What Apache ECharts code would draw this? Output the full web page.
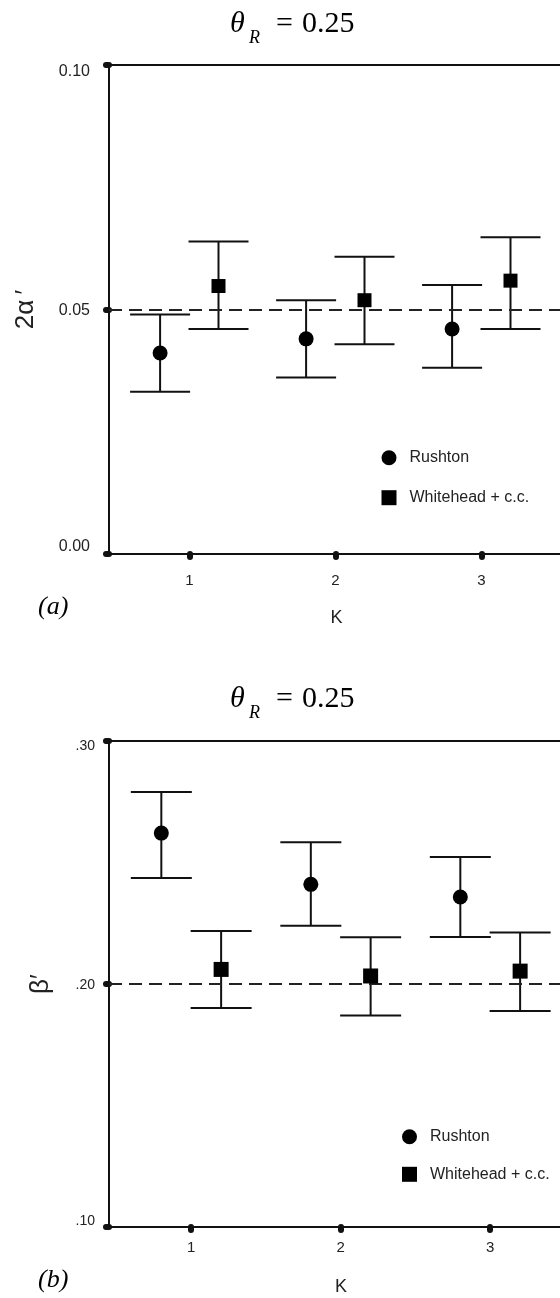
<!DOCTYPE html>
<html><head><meta charset="utf-8">
<script src="https://cdn.jsdelivr.net/npm/echarts@6/dist/echarts.min.js"></script>
<style>html,body{margin:0;padding:0;background:#fff}#c{width:560px;height:1298px}</style>
</head><body><div id="c"></div>
<script>
// ---------- data ----------
const K = [1, 2, 3];
const kTickLabels = ['1', '2', '3'];
const seriesNames = ['Rushton', 'Whitehead + c.c.'];

// panel (a): 2α′
const rushtonA      = [0.0411, 0.0440, 0.0460];
const rushtonALow   = [0.0332, 0.0361, 0.0381];
const rushtonAHigh  = [0.0490, 0.0519, 0.0550];
const whiteheadA     = [0.0548, 0.0519, 0.0559];
const whiteheadALow  = [0.0460, 0.0429, 0.0460];
const whiteheadAHigh = [0.0639, 0.0608, 0.0648];
const refA = 0.05;
const yTicksA = [0.00, 0.05, 0.10];
const yTickLabelsA = ['0.00', '0.05', '0.10'];

// panel (b): β′
const rushtonB      = [0.2621, 0.2410, 0.2358];
const rushtonBLow   = [0.2436, 0.2240, 0.2193];
const rushtonBHigh  = [0.2790, 0.2583, 0.2523];
const whiteheadB     = [0.2060, 0.2033, 0.2053];
const whiteheadBLow  = [0.1901, 0.1870, 0.1889];
const whiteheadBHigh = [0.2218, 0.2192, 0.2212];
const refB = 0.20;
const yTicksB = [0.10, 0.20, 0.30];
const yTickLabelsB = ['.10', '.20', '.30'];

// ---------- styling ----------
const DODGE = 0.2;
const SANS = "'Liberation Sans', Arial, sans-serif";
const SERIF = "'Liberation Serif', 'Times New Roman', serif";
const INK = '#111';
const TXT = '#222';

const chart = echarts.init(document.getElementById('c'), null, {renderer: 'canvas'});

function errSeries(name, xs, lo, hi, g, cap) {
  return {
    type: 'custom', name: name, xAxisIndex: g, yAxisIndex: g, silent: true, z: 3,
    data: xs.map((x, i) => [x, lo[i], hi[i]]),
    encode: {x: 0, y: [1, 2]},
    renderItem: function (params, api) {
      const x = api.value(0);
      const pLo = api.coord([x, api.value(1)]);
      const pHi = api.coord([x, api.value(2)]);
      const hw = cap / 2;
      const st = {stroke: INK, lineWidth: 2, fill: null};
      return {type: 'group', children: [
        {type: 'line', shape: {x1: pLo[0], y1: pLo[1], x2: pHi[0], y2: pHi[1]}, style: st},
        {type: 'line', shape: {x1: pLo[0] - hw, y1: pLo[1], x2: pLo[0] + hw, y2: pLo[1]}, style: st},
        {type: 'line', shape: {x1: pHi[0] - hw, y1: pHi[1], x2: pHi[0] + hw, y2: pHi[1]}, style: st}
      ]};
    }
  };
}

function pointSeries(name, symbol, size, xs, ys, g, ref) {
  const s = {
    type: 'scatter', name: name, xAxisIndex: g, yAxisIndex: g, z: 5,
    symbol: symbol, symbolSize: size, itemStyle: {color: '#000', opacity: 1},
    data: xs.map((x, i) => [x, ys[i]])
  };
  if (ref !== undefined) {
    s.markLine = {
      silent: true, symbol: ['none', 'none'], label: {show: false},
      lineStyle: {type: [13, 7], width: 2, color: '#222'},
      data: [{yAxis: ref}]
    };
  }
  return s;
}

function yAxisCfg(g, ticks, labels, name, gap, fs, margin, padHi, padLo) {
  const base = {fontSize: fs, fontFamily: SANS, color: TXT};
  return {
    type: 'value', gridIndex: g, min: ticks[0], max: ticks[ticks.length - 1],
    name: name, nameLocation: 'middle', nameRotate: 90, nameGap: gap,
    nameTextStyle: {fontSize: 26, fontFamily: SANS, color: TXT},
    axisLine: {show: false}, splitLine: {show: false},
    axisTick: {show: true, customValues: ticks, length: 3,
      lineStyle: {width: 6, color: INK, cap: 'round'}},
    axisLabel: {
      customValues: ticks, margin: margin,
      formatter: function (v) {
        const i = ticks.findIndex(t => Math.abs(t - v) < 1e-9);
        if (i < 0) return '';
        const tag = i === 0 ? 'lo' : (i === ticks.length - 1 ? 'hi' : 'mid');
        return '{' + tag + '|' + labels[i] + '}';
      },
      rich: {
        lo: Object.assign({padding: [0, 0, padLo, 0]}, base),
        hi: Object.assign({padding: [padHi, 0, 0, 0]}, base),
        mid: Object.assign({padding: [2, 0, 0, 0]}, base)
      }
    }
  };
}

function xAxisCfg(g, margin) {
  return {
    type: 'value', gridIndex: g, min: 0.45, max: 4.55,
    axisLine: {show: false}, splitLine: {show: false},
    axisTick: {show: true, customValues: K, length: 3,
      lineStyle: {width: 6, color: INK, cap: 'round'}},
    axisLabel: {customValues: K, margin: margin, fontSize: 15, fontFamily: SANS, color: TXT,
      formatter: function (v) { const i = K.indexOf(v); return i < 0 ? '' : kTickLabels[i]; }}
  };
}

function titleEls(dy) {
  const t = {fill: '#000', fontFamily: SERIF};
  return [
    {type: 'text', x: 230, y: 24.2 + dy, style: Object.assign({text: 'θ', fontSize: 30, fontStyle: 'italic', align: 'left', verticalAlign: 'middle'}, t)},
    {type: 'text', x: 249, y: 37.8 + dy, style: Object.assign({text: 'R', fontSize: 18, fontStyle: 'italic', align: 'left', verticalAlign: 'middle'}, t)},
    {type: 'text', x: 276, y: 24.2 + dy, style: Object.assign({text: '=', fontSize: 30, align: 'left', verticalAlign: 'middle'}, t)},
    {type: 'text', x: 302, y: 24.2 + dy, style: Object.assign({text: '0.25', fontSize: 30, align: 'left', verticalAlign: 'middle'}, t)}
  ];
}

const xR = K.map(k => k - DODGE);
const xW = K.map(k => k + DODGE);

const legendBase = {
  data: seriesNames, orient: 'vertical', itemWidth: 15, itemHeight: 15, selectedMode: false,
  textStyle: {fontSize: 16, fontFamily: SANS, color: TXT, padding: [0, 0, 0, 8]}
};

const gridBase = {show: true, borderWidth: 2, borderColor: INK, backgroundColor: 'transparent',
  containLabel: false, outerBoundsMode: 'none'};

const option = {
  animation: false,
  backgroundColor: '#fff',
  grid: [
    Object.assign({left: 109, top: 65, width: 598.6, height: 489}, gridBase),
    Object.assign({left: 109, top: 741, width: 612.95, height: 486}, gridBase)
  ],
  xAxis: [xAxisCfg(0, 19), xAxisCfg(1, 13)],
  yAxis: [
    yAxisCfg(0, yTicksA, yTickLabelsA, '2α\u2009′', 70, 16, 19, 13, 14),
    yAxisCfg(1, yTicksB, yTickLabelsB, 'β′', 55, 14, 14, 11, 11)
  ],
  legend: [
    Object.assign({left: 376.5, top: 444.7, itemGap: 24}, legendBase),
    Object.assign({left: 397, top: 1123.7, itemGap: 21.6}, legendBase)
  ],
  graphic: [].concat(
    titleEls(0), titleEls(675),
    [
      {type: 'text', x: 38, y: 607, style: {text: '(a)', fontSize: 26, fontStyle: 'italic', fontFamily: SERIF, fill: '#000', align: 'left', verticalAlign: 'middle'}},
      {type: 'text', x: 38, y: 1280.5, style: {text: '(b)', fontSize: 26, fontStyle: 'italic', fontFamily: SERIF, fill: '#000', align: 'left', verticalAlign: 'middle'}},
      {type: 'text', x: 336.6, y: 618, style: {text: 'K', fontSize: 18, fontFamily: SANS, fill: TXT, align: 'center', verticalAlign: 'middle'}},
      {type: 'text', x: 341, y: 1286.7, style: {text: 'K', fontSize: 18, fontFamily: SANS, fill: TXT, align: 'center', verticalAlign: 'middle'}}
    ]
  ),
  series: [
    errSeries('Rushton bars a', xR, rushtonALow, rushtonAHigh, 0, 60),
    errSeries('Whitehead bars a', xW, whiteheadALow, whiteheadAHigh, 0, 60),
    pointSeries(seriesNames[0], 'circle', 15, xR, rushtonA, 0, refA),
    pointSeries(seriesNames[1], 'rect', 14, xW, whiteheadA, 0),
    errSeries('Rushton bars b', xR, rushtonBLow, rushtonBHigh, 1, 61),
    errSeries('Whitehead bars b', xW, whiteheadBLow, whiteheadBHigh, 1, 61),
    pointSeries(seriesNames[0], 'circle', 15, xR, rushtonB, 1, refB),
    pointSeries(seriesNames[1], 'rect', 15, xW, whiteheadB, 1)
  ]
};
chart.setOption(option);
</script>
</body></html>
